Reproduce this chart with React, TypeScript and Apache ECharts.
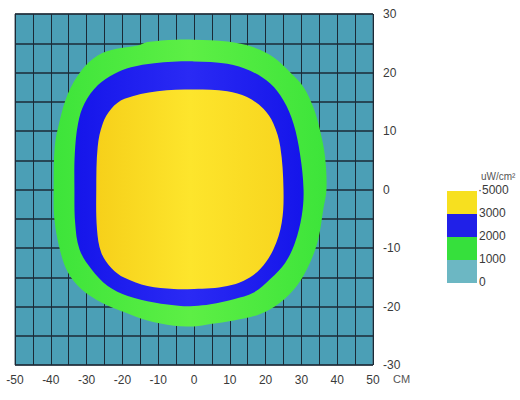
import React, { useEffect, useRef } from "react";
import * as echarts from "echarts";

// Contour outlines (x in cm, y in cm)
const contour1000: [number, number][] = [
  [0, 25.6], [9.3, 25.3], [16.7, 24.3], [22.2, 22.6], [26.9, 20], [30.6, 17.5], [33.3, 14.1],
  [35.2, 10.1], [36.6, 5.6], [37, 0], [36.1, -3.4], [34.7, -8.5], [32.4, -12.5], [28.7, -16.5],
  [24.1, -19.3], [18.5, -21.3], [11.1, -22.4], [4.6, -23], [0, -23.4], [-5.6, -23.3],
  [-13, -22.4], [-19.4, -21], [-25.9, -19.3], [-31.5, -17], [-35.2, -14.2], [-37.5, -10.2],
  [-39, -5.1], [-39.2, 0], [-38.9, 7.3], [-37.5, 11.8], [-35.2, 16.4], [-31.5, 20.3],
  [-26.9, 22.9], [-22, 24], [-15.7, 24.6], [-13, 25.2], [-5, 25.6],
];
const contour2000: [number, number][] = [
  [0, 21.9], [9.3, 21.5], [15.7, 20.3], [21.3, 18.1], [25, 15.2], [27.8, 11.25], [29.6, 6.1],
  [30.6, 0], [30.1, -4.5], [28.2, -9.1], [25.5, -12.5], [21.3, -15.3], [16.7, -17.6],
  [11.1, -18.75], [4.6, -19.6], [0, -19.9], [-3.7, -19.9], [-11.1, -19.3], [-18.5, -18.2],
  [-24.1, -16.5], [-28.7, -13.6], [-32, -10.2], [-33.2, -5.7], [-33.4, 0], [-33.3, 6.1],
  [-32.4, 11.25], [-30.6, 14.7], [-26.9, 17.8], [-22.2, 19.8], [-17.6, 20.9], [-11.1, 21.6],
];
const contour3000: [number, number][] = [
  [0, 17.1], [9.3, 16.8], [14.8, 15.8], [19.4, 13.8], [22.2, 11.25], [24.1, 7.3], [25, 0],
  [24.5, -5.7], [22.2, -10.2], [18.5, -13.6], [13.9, -15.6], [9.3, -16.5], [4.6, -16.9],
  [0, -17], [-5.6, -17], [-13, -16.5], [-19.4, -15.1], [-23.1, -13.4], [-25.9, -10.8],
  [-27.1, -6.8], [-27.3, 0], [-26.9, 7.3], [-25.5, 11.25], [-23.1, 13.8], [-19.4, 15.5],
  [-10.2, 16.8],
];

const legendLabels = ["·5000", "3000", "2000", "1000", "0"];
const legendColors = ["#f7e01f", "#2020e8", "#36e03c", "#6cb7c3"];
const unitLabel = "uW/cm²";
const xAxisName = "CM";

const fills = [
  ["#3de43a", "#5def45", "#3de43a"],
  ["#1515ea", "#2a2af4", "#1515ea"],
  ["#f6d01a", "#fde52c", "#f8d61f"],
];

export default function App() {
  const ref = useRef<HTMLDivElement>(null);
  useEffect(() => {
    if (!ref.current) return;
    const chart = echarts.init(ref.current, undefined, { renderer: "svg" });
    const contours = [contour1000, contour2000, contour3000];
    const labelFont = "'Liberation Sans', Arial, sans-serif";
    const tenOnly = (v: number) => (Math.abs(v % 10) < 1e-9 ? String(v) : "");

    const series = contours.map((poly, i) => ({
      type: "custom",
      coordinateSystem: "cartesian2d",
      data: [[0, 0]],
      silent: true,
      z: 2 + i,
      renderItem: (_params: any, api: any) => {
        const pts = poly.map((p) => api.coord(p));
        return {
          type: "polygon",
          shape: { points: pts, smooth: 0.35 },
          style: {
            fill: new echarts.graphic.LinearGradient(0, 0, 1, 0, [
              { offset: 0, color: fills[i][0] },
              { offset: 0.5, color: fills[i][1] },
              { offset: 1, color: fills[i][2] },
            ]),
          },
        };
      },
    }));

    const legendTop = 191;
    const blockH = 23;
    const graphic: any[] = [];
    legendColors.forEach((c, i) => {
      graphic.push({
        type: "rect",
        left: 447,
        top: legendTop + i * blockH,
        shape: { width: 30, height: blockH },
        style: { fill: c },
      });
    });
    legendLabels.forEach((t, i) => {
      graphic.push({
        type: "text",
        left: i === 0 ? 478 : 479,
        top: legendTop + i * blockH - 7,
        style: { text: t, fill: "#3a3a3a", font: `12px ${labelFont}` },
      });
    });
    graphic.push({
      type: "text",
      left: 481,
      top: 171,
      style: { text: unitLabel, fill: "#555", font: `10px ${labelFont}` },
    });
    graphic.push({
      type: "text",
      left: 393,
      top: 373,
      style: { text: xAxisName, fill: "#555", font: `11px ${labelFont}` },
    });

    chart.setOption({
      animation: false,
      backgroundColor: "#ffffff",
      grid: {
        left: 15,
        right: 147,
        top: 14,
        bottom: 35,
        show: true,
        backgroundColor: "#4b9fb6",
        borderColor: "#4a5560",
        borderWidth: 1,
      },
      xAxis: {
        type: "value",
        min: -50,
        max: 50,
        interval: 5,
        axisLine: { show: false },
        axisTick: { show: false },
        axisLabel: {
          formatter: tenOnly,
          color: "#3a3a3a",
          fontSize: 12,
          fontFamily: labelFont,
          margin: 9,
          showMinLabel: true,
          showMaxLabel: true,
        },
        splitLine: { show: true, lineStyle: { color: "#1b2a36", width: 1 } },
      },
      yAxis: {
        type: "value",
        position: "right",
        min: -30,
        max: 30,
        interval: 5,
        axisLine: { show: false },
        axisTick: { show: false },
        axisLabel: {
          formatter: tenOnly,
          color: "#3a3a3a",
          fontSize: 12,
          fontFamily: labelFont,
          margin: 10,
          showMinLabel: true,
          showMaxLabel: true,
        },
        splitLine: { show: true, lineStyle: { color: "#1b2a36", width: 1.6 } },
      },
      graphic,
      series,
    });
    return () => chart.dispose();
  }, []);
  return (
    <div
      ref={ref}
      style={{ position: "fixed", left: 0, top: 0, width: 520, height: 400 }}
    />
  );
}
